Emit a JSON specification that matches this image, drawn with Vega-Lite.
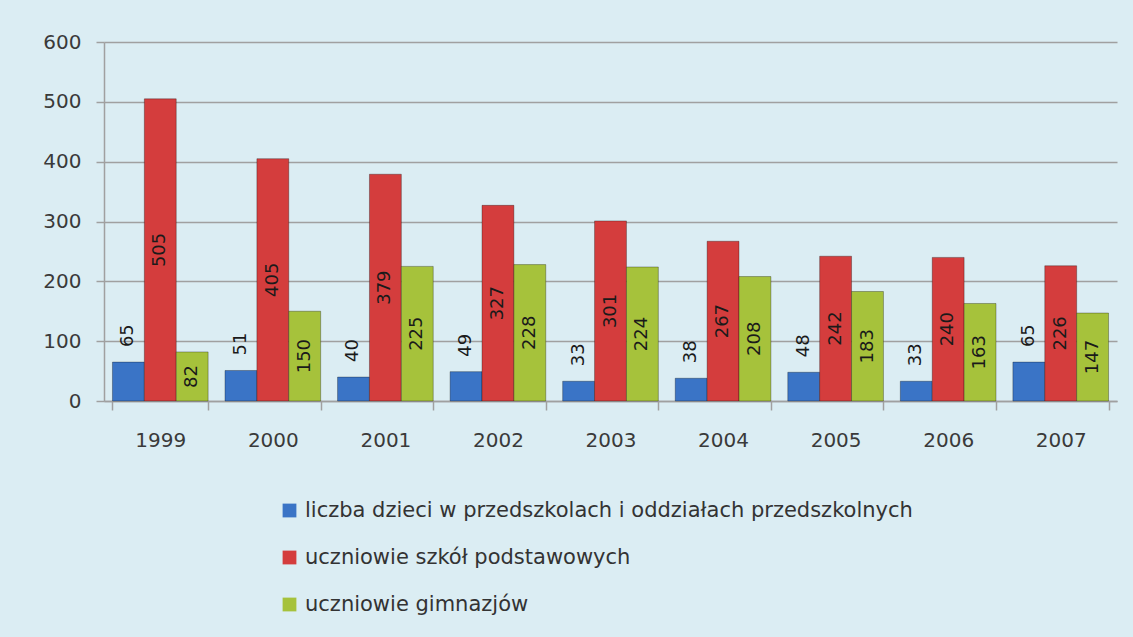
{
  "$schema": "https://vega.github.io/schema/vega-lite/v6.json",
  "width": 1013,
  "height": 359,
  "autosize": {"type": "none"},
  "padding": {"left": 104, "top": 42, "right": 16, "bottom": 236},
  "background": "#DBEDF3",
  "config": {
    "view": {"stroke": null},
    "font": "DejaVu Sans"
  },
  "data": {
    "values": [
      {"year": "1999", "series": "liczba dzieci w przedszkolach i oddziałach przedszkolnych", "value": 65},
      {"year": "1999", "series": "uczniowie szkół podstawowych", "value": 505},
      {"year": "1999", "series": "uczniowie gimnazjów", "value": 82},
      {"year": "2000", "series": "liczba dzieci w przedszkolach i oddziałach przedszkolnych", "value": 51},
      {"year": "2000", "series": "uczniowie szkół podstawowych", "value": 405},
      {"year": "2000", "series": "uczniowie gimnazjów", "value": 150},
      {"year": "2001", "series": "liczba dzieci w przedszkolach i oddziałach przedszkolnych", "value": 40},
      {"year": "2001", "series": "uczniowie szkół podstawowych", "value": 379},
      {"year": "2001", "series": "uczniowie gimnazjów", "value": 225},
      {"year": "2002", "series": "liczba dzieci w przedszkolach i oddziałach przedszkolnych", "value": 49},
      {"year": "2002", "series": "uczniowie szkół podstawowych", "value": 327},
      {"year": "2002", "series": "uczniowie gimnazjów", "value": 228},
      {"year": "2003", "series": "liczba dzieci w przedszkolach i oddziałach przedszkolnych", "value": 33},
      {"year": "2003", "series": "uczniowie szkół podstawowych", "value": 301},
      {"year": "2003", "series": "uczniowie gimnazjów", "value": 224},
      {"year": "2004", "series": "liczba dzieci w przedszkolach i oddziałach przedszkolnych", "value": 38},
      {"year": "2004", "series": "uczniowie szkół podstawowych", "value": 267},
      {"year": "2004", "series": "uczniowie gimnazjów", "value": 208},
      {"year": "2005", "series": "liczba dzieci w przedszkolach i oddziałach przedszkolnych", "value": 48},
      {"year": "2005", "series": "uczniowie szkół podstawowych", "value": 242},
      {"year": "2005", "series": "uczniowie gimnazjów", "value": 183},
      {"year": "2006", "series": "liczba dzieci w przedszkolach i oddziałach przedszkolnych", "value": 33},
      {"year": "2006", "series": "uczniowie szkół podstawowych", "value": 240},
      {"year": "2006", "series": "uczniowie gimnazjów", "value": 163},
      {"year": "2007", "series": "liczba dzieci w przedszkolach i oddziałach przedszkolnych", "value": 65},
      {"year": "2007", "series": "uczniowie szkół podstawowych", "value": 226},
      {"year": "2007", "series": "uczniowie gimnazjów", "value": 147}
    ]
  },
  "encoding": {
    "x": {
      "field": "year",
      "type": "nominal",
      "scale": {"paddingInner": 0.15, "paddingOuter": 0.075},
      "axis": {
        "title": null,
        "labelAngle": 0,
        "labelFontSize": 20,
        "labelColor": "#3a3a3a",
        "labelPadding": 20,
        "domainColor": "#A0A0A0",
        "domainWidth": 1.5,
        "tickColor": "#A0A0A0",
        "tickWidth": 1.5,
        "tickSize": 9,
        "tickBand": "extent",
        "grid": false
      }
    },
    "xOffset": {
      "field": "series",
      "type": "nominal",
      "sort": ["liczba dzieci w przedszkolach i oddziałach przedszkolnych", "uczniowie szkół podstawowych", "uczniowie gimnazjów"],
      "scale": {"paddingInner": 0, "paddingOuter": 0}
    }
  },
  "layer": [
    {
      "mark": {"type": "bar", "stroke": "rgba(0,0,0,0.3)", "strokeWidth": 1},
      "encoding": {
        "y": {
          "field": "value",
          "type": "quantitative",
          "scale": {"domain": [0, 600], "nice": false},
          "axis": {
            "title": null,
            "values": [0, 100, 200, 300, 400, 500, 600],
            "labelFontSize": 20,
            "labelColor": "#3a3a3a",
            "labelPadding": 15,
            "grid": true,
            "gridColor": "#A0A0A0",
            "gridWidth": 1.5,
            "domainColor": "#A0A0A0",
            "domainWidth": 1.5,
            "tickColor": "#A0A0A0",
            "tickWidth": 1.5,
            "tickSize": 8
          }
        },
        "color": {
          "field": "series",
          "type": "nominal",
          "sort": ["liczba dzieci w przedszkolach i oddziałach przedszkolnych", "uczniowie szkół podstawowych", "uczniowie gimnazjów"],
          "scale": {"range": ["#3A74C6", "#D43D3D", "#A6C23B"]},
          "legend": {
            "title": null,
            "orient": "none",
            "legendX": 175,
            "legendY": 458,
            "direction": "vertical",
            "symbolType": "square",
            "symbolSize": 190,
            "symbolStrokeWidth": 0,
            "labelFont": "DejaVu Sans",
            "labelFontSize": 21,
            "labelColor": "#333333",
            "labelOffset": 5,
            "rowPadding": 25,
            "labelLimit": 800
          }
        }
      }
    },
    {
      "transform": [
        {"filter": "datum.series != 'liczba dzieci w przedszkolach i oddziałach przedszkolnych'"},
        {"calculate": "datum.value / 2", "as": "mid"}
      ],
      "mark": {"type": "text", "angle": 270, "align": "center", "baseline": "middle", "fontSize": 18, "color": "#1a1a1a"},
      "encoding": {
        "y": {"field": "mid", "type": "quantitative"},
        "text": {"field": "value", "type": "quantitative"}
      }
    },
    {
      "transform": [
        {"filter": "datum.series == 'liczba dzieci w przedszkolach i oddziałach przedszkolnych'"}
      ],
      "mark": {"type": "text", "angle": 270, "align": "left", "baseline": "middle", "dx": 15, "fontSize": 18, "color": "#1a1a1a"},
      "encoding": {
        "y": {"field": "value", "type": "quantitative"},
        "text": {"field": "value", "type": "quantitative"}
      }
    }
  ]
}
